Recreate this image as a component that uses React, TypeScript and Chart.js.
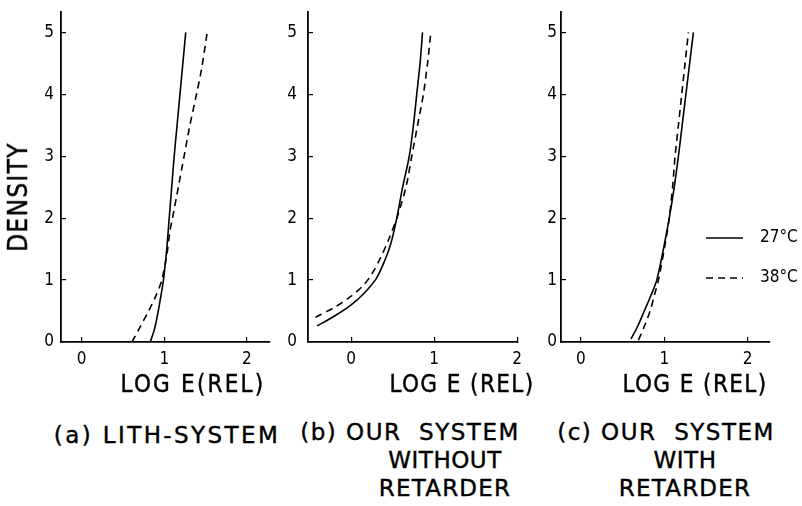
import React, { useEffect, useRef } from "react";
import { Chart, registerables } from "chart.js";

Chart.register(...registerables);

// ---------- data ----------
const xTicks = [0, 1, 2];
const yTicks = [0, 1, 2, 3, 4, 5];
const seriesLabels = ["27°C", "38°C"];

// (a) LITH-SYSTEM
const aSolidX = [0.83, 0.88, 0.92, 0.96, 0.99, 1.03, 1.06, 1.09, 1.12, 1.155, 1.19, 1.225, 1.26];
const aSolidY = [0, 0.2, 0.45, 0.75, 1.0, 1.5, 2.0, 2.5, 3.0, 3.5, 4.0, 4.5, 5.0];
const aDashX = [0.61, 0.71, 0.81, 0.9, 0.97, 1.03, 1.07, 1.1, 1.17, 1.24, 1.31, 1.39, 1.45, 1.52];
const aDashY = [0, 0.25, 0.5, 0.75, 1.0, 1.4, 1.8, 2.0, 2.5, 3.0, 3.5, 4.0, 4.4, 5.0];

// (b) OUR SYSTEM WITHOUT RETARDER
const bSolidX = [-0.41, -0.2, 0, 0.15, 0.3, 0.4, 0.48, 0.55, 0.62, 0.7, 0.75, 0.79, 0.83, 0.86];
const bSolidY = [0.26, 0.42, 0.6, 0.78, 1.02, 1.3, 1.6, 2.0, 2.5, 3.0, 3.5, 4.0, 4.5, 5.0];
const bDashX = [-0.43, -0.2, 0, 0.15, 0.25, 0.35, 0.45, 0.55, 0.66, 0.73, 0.8, 0.87, 0.92, 0.96];
const bDashY = [0.4, 0.56, 0.74, 0.92, 1.1, 1.35, 1.65, 2.0, 2.5, 3.0, 3.5, 4.0, 4.5, 5.0];

// (c) OUR SYSTEM WITH RETARDER
const cSolidX = [0.6, 0.68, 0.76, 0.84, 0.91, 0.99, 1.06, 1.12, 1.17, 1.215, 1.26, 1.305, 1.35];
const cSolidY = [0.05, 0.25, 0.5, 0.75, 1.0, 1.5, 2.0, 2.5, 3.0, 3.5, 4.0, 4.5, 5.0];
const cDashX = [0.69, 0.76, 0.83, 0.88, 0.93, 1.0, 1.06, 1.1, 1.13, 1.17, 1.21, 1.25, 1.29];
const cDashY = [0.03, 0.25, 0.5, 0.75, 1.0, 1.5, 2.0, 2.5, 3.0, 3.5, 4.0, 4.5, 5.0];

const yTitle = "DENSITY";
const xTitles = ["LOG E(REL)", "LOG E (REL)", "LOG E (REL)"];
const captionA = ["(a) LITH-SYSTEM"];
const captionB = ["(b) OUR  SYSTEM", "WITHOUT", "RETARDER"];
const captionC = ["(c) OUR  SYSTEM", "WITH", "RETARDER"];

// ---------- layout ----------
const FONT = "'DejaVu Sans Condensed', 'Liberation Sans Narrow', 'DejaVu Sans', sans-serif";
const CAP_FONT = "'DejaVu Sans', sans-serif";
const Y_W = 40;
const X_H = 30;
const TOP = 12;
const BOTTOM = 342;

type Panel = {
  left: number;
  right: number;
  xMin: number;
  xMax: number;
  yPad: number;
  extraRight: number;
  sx: number[];
  sy: number[];
  dx: number[];
  dy: number[];
  legend: boolean;
};

const panels: Panel[] = [
  { left: 61, right: 270, xMin: -0.25, xMax: 2.28, yPad: 12, extraRight: 4, sx: aSolidX, sy: aSolidY, dx: aDashX, dy: aDashY, legend: false },
  { left: 308, right: 518, xMin: -0.52, xMax: 2.01, yPad: 16, extraRight: 4, sx: bSolidX, sy: bSolidY, dx: bDashX, dy: bDashY, legend: false },
  { left: 561, right: 770, xMin: -0.24, xMax: 2.27, yPad: 9, extraRight: 32, sx: cSolidX, sy: cSolidY, dx: cDashX, dy: cDashY, legend: true },
];

const zip = (xs: number[], ys: number[]) => xs.map((x, i) => ({ x, y: ys[i] }));

function PanelChart({ p }: { p: Panel }) {
  const ref = useRef<HTMLCanvasElement>(null);
  const width = p.right - p.left + Y_W + p.extraRight;
  const height = BOTTOM + X_H;
  const canvasLeft = p.left - Y_W;

  useEffect(() => {
    if (!ref.current) return;
    const legendPlugin = {
      id: "tempLegend",
      afterDraw(chart: any) {
        if (!p.legend) return;
        const ctx = chart.ctx;
        const items = [
          { y: 238, dash: [] as number[] },
          { y: 278, dash: [7, 5] },
        ];
        ctx.save();
        items.forEach((it, i) => {
          ctx.beginPath();
          ctx.setLineDash(it.dash);
          ctx.lineWidth = 1.6;
          ctx.strokeStyle = "#000";
          ctx.moveTo(706 - canvasLeft, it.y);
          ctx.lineTo(743 - canvasLeft, it.y);
          ctx.stroke();
          ctx.setLineDash([]);
          ctx.fillStyle = "#000";
          ctx.font = `17px ${FONT}`;
          ctx.textBaseline = "middle";
          ctx.textAlign = "left";
          ctx.fillText(chart.data.datasets[i].label, 760 - canvasLeft, it.y);
        });
        ctx.restore();
      },
    };

    const axisCommon = {
      type: "linear" as const,
      grid: {
        display: true,
        drawOnChartArea: false,
        drawTicks: true,
        tickLength: -5,
        color: "#000",
        lineWidth: 1.2,
      },
      border: { display: true, color: "#000", width: 1.8 },
    };

    const chart = new Chart(ref.current, {
      type: "scatter",
      data: {
        datasets: [
          {
            label: seriesLabels[0],
            data: zip(p.sx, p.sy),
            showLine: true,
            borderColor: "#000",
            borderWidth: 1.6,
            pointRadius: 0,
            tension: 0.3,
            fill: false,
          },
          {
            label: seriesLabels[1],
            data: zip(p.dx, p.dy),
            showLine: true,
            borderColor: "#000",
            borderWidth: 1.6,
            borderDash: [7, 5],
            pointRadius: 0,
            tension: 0.3,
            fill: false,
          },
        ],
      },
      options: {
        responsive: false,
        animation: false,
        events: [],
        layout: { padding: { top: TOP, left: 0, right: p.extraRight, bottom: 0 } },
        plugins: { legend: { display: false }, tooltip: { enabled: false } },
        scales: {
          x: {
            ...axisCommon,
            min: p.xMin,
            max: p.xMax,
            afterFit: (s: any) => {
              s.height = X_H;
              s.paddingLeft = 0;
              s.paddingRight = 0;
            },
            afterBuildTicks: (s: any) => {
              s.ticks = xTicks.map((v) => ({ value: v }));
            },
            ticks: {
              color: "#000",
              font: { family: FONT, size: 17 },
              padding: 12,
              maxRotation: 0,
              autoSkip: false,
              callback: (v: any) => String(v),
            },
          },
          y: {
            ...axisCommon,
            min: 0,
            max: 5.33,
            afterFit: (s: any) => {
              s.width = Y_W;
              s.paddingTop = 0;
              s.paddingBottom = 0;
            },
            afterBuildTicks: (s: any) => {
              s.ticks = yTicks.map((v) => ({ value: v }));
            },
            ticks: {
              color: "#000",
              font: { family: FONT, size: 17 },
              padding: p.yPad,
              autoSkip: false,
              callback: (v: any) => String(v),
            },
          },
        },
      } as any,
      plugins: [legendPlugin],
    });
    return () => chart.destroy();
  }, []);

  return (
    <canvas
      ref={ref}
      width={width}
      height={height}
      style={{ position: "absolute", left: canvasLeft, top: 0, width, height }}
    />
  );
}

function Txt({ x, y, text, size, font, spacing = 0 }: { x: number; y: number; text: string; size: number; font: string; spacing?: number }) {
  return (
    <div
      style={{
        position: "absolute",
        left: x,
        top: y,
        transform: "translate(-50%, -50%)",
        whiteSpace: "pre",
        fontFamily: font,
        fontSize: size,
        letterSpacing: spacing,
        lineHeight: 1,
        color: "#000",
        WebkitTextStroke: "0.4px #000",
      }}
    >
      {text}
    </div>
  );
}

export default function App() {
  return (
    <div style={{ position: "absolute", left: 0, top: 0, width: 802, height: 506, background: "#fff", overflow: "hidden" }}>
      {panels.map((p, i) => (
        <PanelChart key={i} p={p} />
      ))}
      <div
        style={{
          position: "absolute",
          left: 18,
          top: 197,
          transform: "translate(-50%, -50%) rotate(-90deg)",
          fontFamily: FONT,
          fontSize: 26,
          letterSpacing: 1.3,
          lineHeight: 1,
          whiteSpace: "pre",
          WebkitTextStroke: "0.4px #000",
        }}
      >
        {yTitle}
      </div>
      <Txt x={193} y={384} text={xTitles[0]} size={24} font={FONT} spacing={2.2} />
      <Txt x={462} y={384} text={xTitles[1]} size={24} font={FONT} spacing={1.4} />
      <Txt x={695} y={384} text={xTitles[2]} size={24} font={FONT} spacing={1.4} />

      <Txt x={167} y={435} text={captionA[0]} size={23} font={CAP_FONT} spacing={2.4} />

      <Txt x={410} y={432} text={captionB[0]} size={23} font={CAP_FONT} spacing={1.5} />
      <Txt x={445} y={460} text={captionB[1]} size={23} font={CAP_FONT} spacing={0.5} />
      <Txt x={445} y={488} text={captionB[2]} size={23} font={CAP_FONT} spacing={1.2} />

      <Txt x={666} y={432} text={captionC[0]} size={23} font={CAP_FONT} spacing={1.5} />
      <Txt x={685} y={460} text={captionC[1]} size={23} font={CAP_FONT} spacing={0.5} />
      <Txt x={685} y={488} text={captionC[2]} size={23} font={CAP_FONT} spacing={1.2} />
    </div>
  );
}
